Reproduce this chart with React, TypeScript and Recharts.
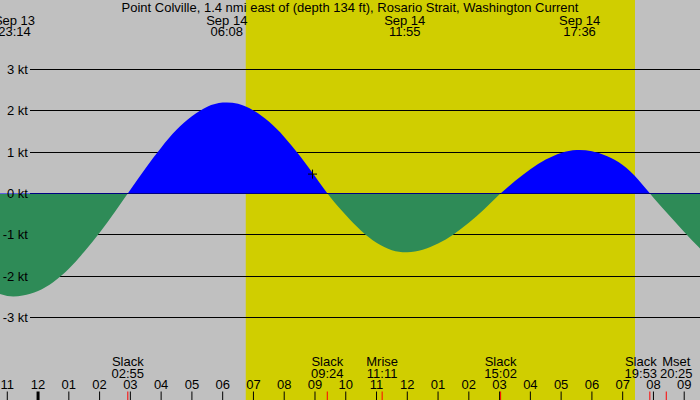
import React from 'react'
import {
  ComposedChart,
  Area,
  XAxis,
  YAxis,
  ReferenceArea,
  ReferenceLine,
  ReferenceDot,
} from 'recharts'

const FONT = '"Liberation Sans", Arial, sans-serif'
const TITLE = 'Point Colville, 1.4 nmi east of (depth 134 ft), Rosario Strait, Washington Current'

// hours from midnight Sep 14 (negative = Sep 13)
const HOURS = [
  -1.5, -1, -0.5, 0, 0.5, 1, 1.5, 2, 2.5, 3, 3.5, 4, 4.5, 5, 5.5, 6, 6.5, 7, 7.5, 8, 8.5, 9, 9.5, 10,
  10.5, 11, 11.5, 12, 12.5, 13, 13.5, 14, 14.5, 15, 15.5, 16, 16.5, 17, 17.5, 18, 18.5, 19, 19.5, 20,
  20.5, 21, 21.5, 22,
]
// current speed in knots
const KNOTS = [
  -2.36, -2.48, -2.47, -2.36, -2.14, -1.82, -1.41, -0.95, -0.44, 0.09, 0.62, 1.11, 1.54, 1.87, 2.1, 2.2,
  2.17, 2.01, 1.74, 1.37, 0.92, 0.42, -0.09, -0.52, -0.9, -1.19, -1.37, -1.42, -1.36, -1.21, -0.99,
  -0.71, -0.38, -0.02, 0.3, 0.59, 0.82, 0.98, 1.05, 1.02, 0.9, 0.69, 0.34, -0.1, -0.52, -0.93, -1.32,
  -1.68,
]

const KT_LEVELS = [3, 2, 1, 0, -1, -2, -3]
const HOUR_TICKS = [-1, 0, 1, 2, 3, 4, 5, 6, 7, 8, 9, 10, 11, 12, 13, 14, 15, 16, 17, 18, 19, 20, 21]

// max / min current
const EXTREME_TIMES = [-0.767, 6.133, 11.917, 17.6]
const EXTREME_DATES = ['Sep 13', 'Sep 14', 'Sep 14', 'Sep 14']
const EXTREME_CLOCK = ['23:14', '06:08', '11:55', '17:36']

// slack water and moon events
const EVENT_TIMES = [2.917, 9.4, 11.183, 15.033, 19.883, 20.417]
const EVENT_NAMES = ['Slack', 'Slack', 'Mrise', 'Slack', 'Slack', 'Mset']
const EVENT_CLOCK = ['02:55', '09:24', '11:11', '15:02', '19:53', '20:25']
const EVENT_NUDGE = [0, 0, 0, 0, -9, 10]

const SUNRISE = 6.75
const SUNSET = 19.4
const NOW_T = 8.92
const NOW_KT = 0.47

const X_DOMAIN: [number, number] = [-1.237, 21.513]
const Y_DOMAIN: [number, number] = [-4.996, 4.682]
const GRID_START = -0.26
const W = 700
const H = 400

const rows = HOURS.map((t, i) => ({ t, kt: KNOTS[i] }))
const zeroFrac = Y_DOMAIN[1] / (Y_DOMAIN[1] - Y_DOMAIN[0])

const txt = { fontFamily: FONT, fontSize: 13, fill: '#000' }

function hourLabel(t: number) {
  const h = (((t % 12) + 12) % 12) || 12
  return String(h).padStart(2, '0')
}

function HourTick(props: any) {
  const { x, payload } = props
  const midnight = payload.value % 24 === 0
  return (
    <g>
      <line x1={x} x2={x} y1={H - 8.5} y2={H} stroke="#000" strokeWidth={midnight ? 3 : 1} />
      <text x={x} y={H - 11} textAnchor="middle" {...txt}>
        {hourLabel(payload.value)}
      </text>
    </g>
  )
}

function EventTick(props: any) {
  const { x, index } = props
  const lx = x + EVENT_NUDGE[index]
  return (
    <g>
      <line x1={x} x2={x} y1={H - 8.5} y2={H} stroke="#ff0000" strokeWidth={1} />
      <text x={lx} y={H - 34} textAnchor="middle" {...txt}>
        {EVENT_NAMES[index]}
      </text>
      <text x={lx} y={H - 22} textAnchor="middle" {...txt}>
        {EVENT_CLOCK[index]}
      </text>
    </g>
  )
}

function ExtremeTick(props: any) {
  const { x, index } = props
  return (
    <g>
      <text x={x} y={24.5} textAnchor="middle" {...txt}>
        {EXTREME_DATES[index]}
      </text>
      <text x={x} y={36} textAnchor="middle" {...txt}>
        {EXTREME_CLOCK[index]}
      </text>
    </g>
  )
}

function KtTick(props: any) {
  const { y, payload } = props
  return (
    <text x={28} y={y} dy="0.35em" textAnchor="end" {...txt}>
      {`${payload.value} kt`}
    </text>
  )
}

function NowMark(props: any) {
  const { cx, cy } = props
  return <path d={`M${cx - 4.5},${cy}h9M${cx},${cy - 4.5}v9`} stroke="#000" strokeWidth={1} fill="none" />
}

export default function App() {
  return (
    <div style={{ position: 'absolute', left: 0, top: 0, width: W, height: H, background: '#c0c0c0' }}>
      <ComposedChart width={W} height={H} data={rows} margin={{ top: -1, right: 0, bottom: -2, left: -1 }}>
        <defs>
          <linearGradient id="flowFill" gradientUnits="userSpaceOnUse" x1="0" y1="0" x2="0" y2={H}>
            <stop offset={zeroFrac} stopColor="#0000ff" />
            <stop offset={zeroFrac} stopColor="#2e8b57" />
          </linearGradient>
        </defs>
        <ReferenceArea x1={SUNSET} x2={SUNRISE} fill="#d0ce00" fillOpacity={1} stroke="none" zIndex={-300} />
        {KT_LEVELS.map((v) => (
          <ReferenceLine
            key={v}
            segment={[
              { x: GRID_START, y: v },
              { x: X_DOMAIN[1], y: v },
            ]}
            stroke="#000"
            strokeWidth={1}
            shapeRendering="crispEdges"
            zIndex={-200}
          />
        ))}
        <Area
          dataKey="kt"
          type="natural"
          baseValue={0}
          stroke="none"
          fill="url(#flowFill)"
          fillOpacity={1}
          dot={false}
          activeDot={false}
          isAnimationActive={false}
        />
        <ReferenceDot x={NOW_T} y={NOW_KT} shape={NowMark} />
        <XAxis
          dataKey="t"
          type="number"
          domain={X_DOMAIN}
          allowDataOverflow
          ticks={HOUR_TICKS}
          interval={0}
          height={1}
          tickSize={0}
          tickMargin={0}
          axisLine={false}
          tickLine={false}
          tick={HourTick}
        />
        <XAxis
          xAxisId="events"
          dataKey="t"
          type="number"
          domain={X_DOMAIN}
          allowDataOverflow
          ticks={EVENT_TIMES}
          interval={0}
          height={1}
          tickSize={0}
          tickMargin={0}
          axisLine={false}
          tickLine={false}
          tick={EventTick}
        />
        <XAxis
          xAxisId="extremes"
          dataKey="t"
          orientation="top"
          type="number"
          domain={X_DOMAIN}
          allowDataOverflow
          ticks={EXTREME_TIMES}
          interval={0}
          height={1}
          tickSize={0}
          tickMargin={0}
          axisLine={false}
          tickLine={false}
          tick={ExtremeTick}
        />
        <YAxis
          type="number"
          domain={Y_DOMAIN}
          allowDataOverflow
          ticks={KT_LEVELS}
          interval={0}
          width={1}
          tickSize={0}
          tickMargin={0}
          axisLine={false}
          tickLine={false}
          tick={KtTick}
        />
      </ComposedChart>
      <div
        style={{
          position: 'absolute',
          left: 0,
          top: 1,
          width: W,
          textAlign: 'center',
          fontFamily: FONT,
          fontSize: 13,
          lineHeight: '13px',
          color: '#000',
          whiteSpace: 'nowrap',
        }}
      >
        {TITLE}
      </div>
    </div>
  )
}
